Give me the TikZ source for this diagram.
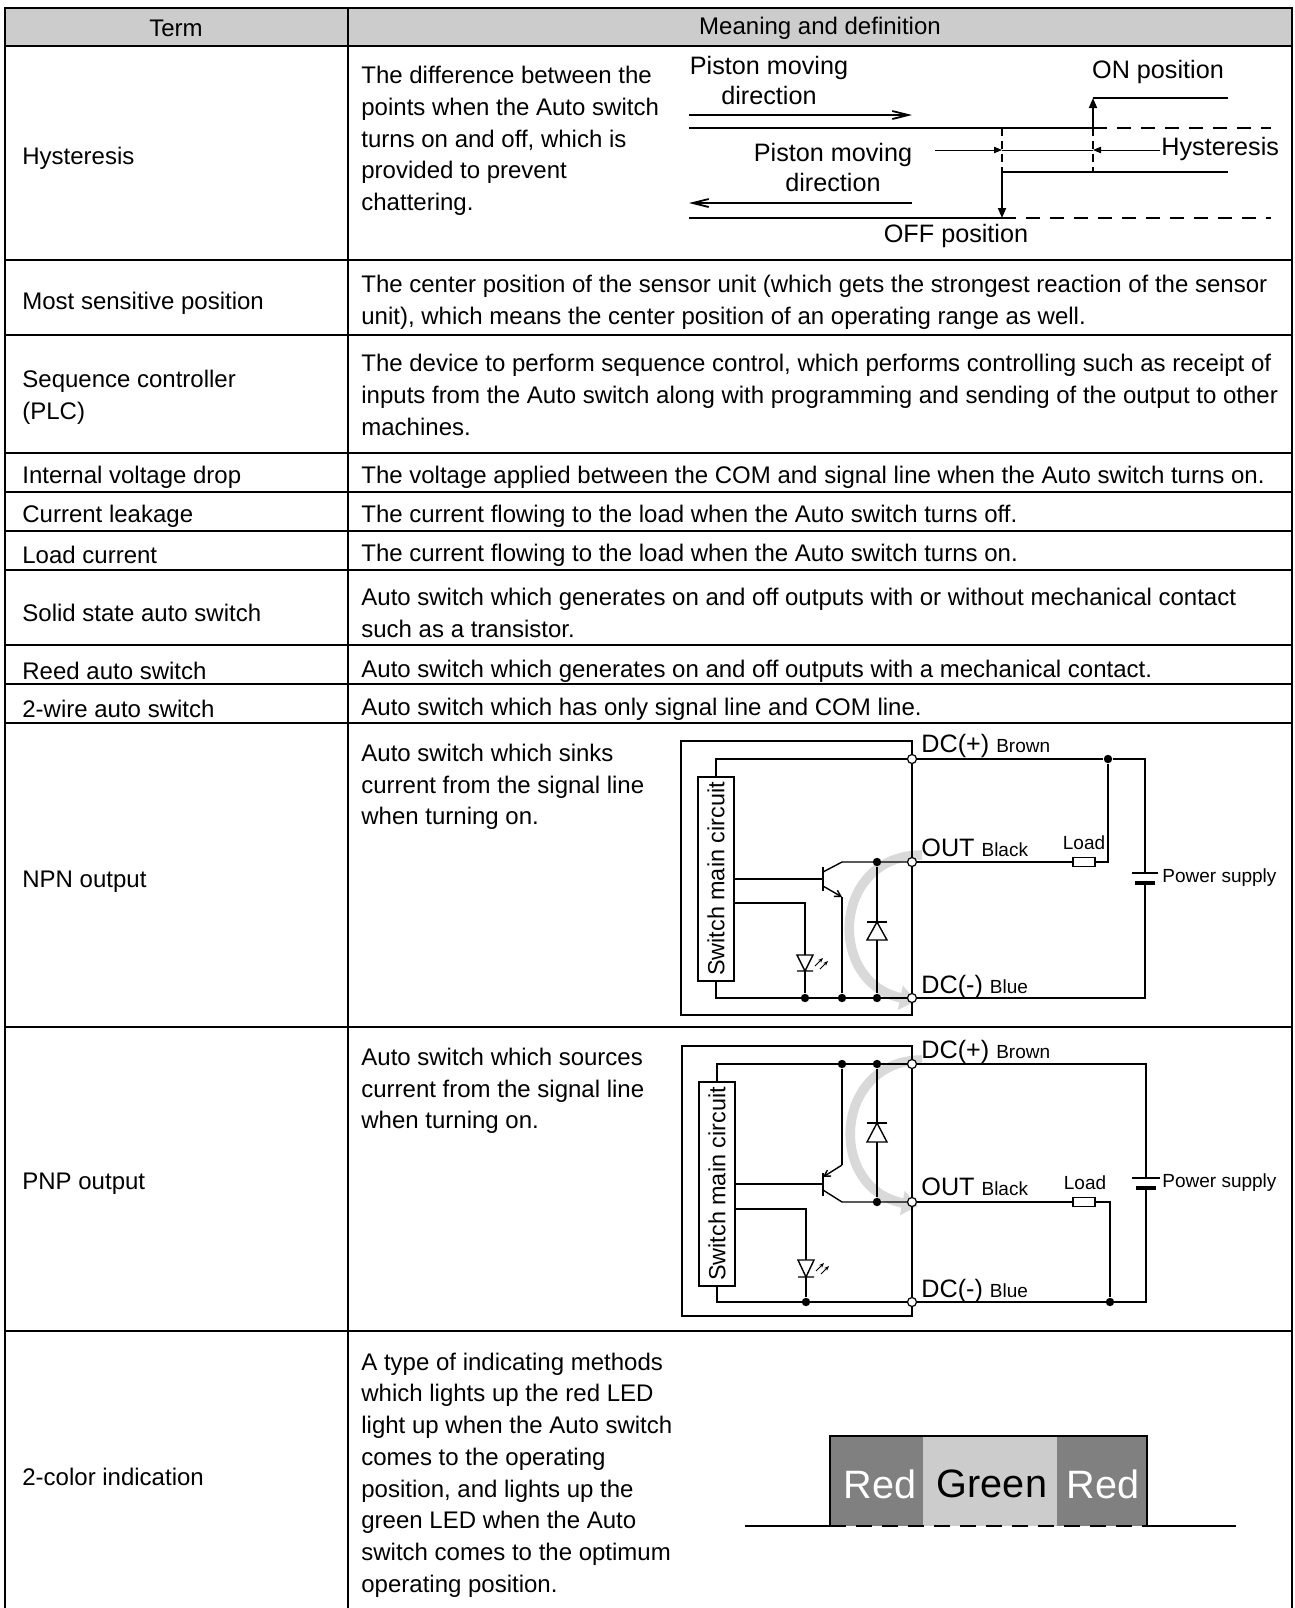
\documentclass[tikz,border=0pt]{standalone}
\usepackage{fontspec}
\setmainfont{Liberation Sans}
\usetikzlibrary{arrows.meta}
\newcommand{\wirefont}{\fontsize{9.5}{9.5}\selectfont}

\begin{document}
\begin{tikzpicture}[x=0.5pt,y=-0.5pt,
  every node/.style={inner sep=0pt},
  txt/.style={anchor=west,align=left,yshift=-2pt,font=\fontsize{12}{15.85}\selectfont},
  rule/.style={line width=1.15pt},
  hline/.style={line width=0.9pt},
  wire/.style={line width=0.7pt},
  term/.style={draw,shape=circle,fill=white,minimum size=4.5pt,line width=0.6pt},
  dot/.style={shape=circle,fill=black,minimum size=4.2pt},
  big/.style={font=\fontsize{12.6}{15}\selectfont},
  small/.style={font=\wirefont},
  boxtxt/.style={draw,wire,rotate=90,minimum width=102pt,minimum height=18pt,font=\fontsize{11.7}{11.7}\selectfont},
  lamp/.style={font=\fontsize{19.8}{19.8}\selectfont},
  emit/.style={-{Straight Barb[length=3pt,width=3.5pt]}},
  flow/.style={draw=black!15,line width=4.8pt,-{Triangle[length=8pt,width=12pt]}}]
\useasboundingbox (0,0) rectangle (1295,1608);
% table grid
\fill[black!20] (5,8) rectangle (1292,46);
\draw[rule] (5,1608) -- (5,8) -- (1292,8) -- (1292,1608) (348,8) -- (348,1608);
\draw[rule] (5,46) -- (1292,46) (5,260) -- (1292,260) (5,335) -- (1292,335)
  (5,453) -- (1292,453) (5,492) -- (1292,492) (5,531) -- (1292,531)
  (5,570) -- (1292,570) (5,645) -- (1292,645) (5,684) -- (1292,684)
  (5,723) -- (1292,723) (5,1027) -- (1292,1027) (5,1331) -- (1292,1331);
\node[txt,anchor=center,yshift=2pt] (hTerm) at (176,28) {Term};
\node[txt,anchor=center,yshift=2pt] (hMean) at (820,28) {Meaning and definition};
% terms
\node[txt] (tHys) at (22,154) {Hysteresis};
\node[txt] (tSens) at (22,299) {Most sensitive position};
\node[txt] (tPlc) at (22,393) {Sequence controller\\(PLC)};
\node[txt] (tDrop) at (22,473) {Internal voltage drop};
\node[txt] (tLeak) at (22,512) {Current leakage};
\node[txt] (tLoad) at (22,551) {Load current};
\node[txt] (tSolid) at (22,609) {Solid state auto switch};
\node[txt] (tReed) at (22,667) {Reed auto switch};
\node[txt] (tTwo) at (22,705) {2-wire auto switch};
\node[txt] (tNpn) at (22,878) {NPN output};
\node[txt] (tPnp) at (22,1180) {PNP output};
\node[txt] (tLed) at (22,1473) {2-color indication};
% definitions
\node[txt] (dHys) at (361,137) {The difference between the\\points when the Auto switch\\turns on and off, which is\\provided to prevent\\chattering.};
\node[txt] (dSens) at (361,298) {The center position of the sensor unit (which gets the strongest reaction of the sensor\\unit), which means the center position of an operating range as well.};
\node[txt] (dPlc) at (361,391) {The device to perform sequence control, which performs controlling such as receipt of\\inputs from the Auto switch along with programming and sending of the output to other\\machines.};
\node[txt] (dDrop) at (361,473) {The voltage applied between the COM and signal line when the Auto switch turns on.};
\node[txt] (dLeak) at (361,512) {The current flowing to the load when the Auto switch turns off.};
\node[txt] (dLoad) at (361,551) {The current flowing to the load when the Auto switch turns on.};
\node[txt] (dSolid) at (361,609) {Auto switch which generates on and off outputs with or without mechanical contact\\such as a transistor.};
\node[txt] (dReed) at (361,667) {Auto switch which generates on and off outputs with a mechanical contact.};
\node[txt] (dTwo) at (361,705) {Auto switch which has only signal line and COM line.};
\node[txt] (dNpn) at (361,783) {Auto switch which sinks\\current from the signal line\\when turning on.};
\node[txt] (dPnp) at (361,1087) {Auto switch which sources\\current from the signal line\\when turning on.};
\node[txt] (dLed) at (361,1471) {A type of indicating methods\\which lights up the red LED\\light up when the Auto switch\\comes to the operating\\position, and lights up the\\green LED when the Auto\\switch comes to the optimum\\operating position.};

% hysteresis chart
\path (689,128) coordinate (h0) (1093,128) coordinate (h1) (1271,128) coordinate (h2)
  (1093,98) coordinate (h3) (1228,98) coordinate (h4)
  (689,218) coordinate (h5) (1002,218) coordinate (h6) (1271,218) coordinate (h7)
  (1002,172) coordinate (h8) (1228,172) coordinate (h9);
\draw[hline] (h0) -- (h1) (h3) -- (h4) (h5) -- (h6) (h8) -- (h9);
\draw[hline,dash pattern=on 7pt off 5pt] (h1) -- (h2) (h6) -- (h7);
\draw[hline,dash pattern=on 4pt off 2.5pt] (1002,128) -- (h8) (h1) -- (1093,172);
\draw[hline,-{Triangle[length=5pt,width=4pt]}] (h1) -- (h3);
\draw[hline,-{Triangle[length=5pt,width=4pt]}] (h8) -- (h6);
\draw[hline,-{Straight Barb[length=8pt,width=4pt]}] (689,115) -- (912,115);
\draw[hline,-{Straight Barb[length=8pt,width=4pt]}] (912,203) -- (689,203);
\draw[thin,-{Triangle[length=4pt,width=3.2pt]}] (935,150) -- (1002,150);
\draw[thin] (1002,150) -- (1093,150);
\draw[thin,-{Triangle[length=4pt,width=3.2pt]}] (1160,150) -- (1093,150);
\node[big,align=center] (hPis1) at (769,80) {Piston moving\\direction};
\node[big,align=center] (hPis2) at (833,167) {Piston moving\\direction};
\node[big] (hOn) at (1158,72) {ON position};
\node[big,anchor=west] (hHys) at (1161,149) {Hysteresis};
\node[big] (hOff) at (956,236) {OFF position};

% NPN output circuit
\draw[flow] (922,855) .. controls (832,855) and (826,982) .. (916,1001);
\draw[wire] (681,741) rectangle (912,1015);
\node[boxtxt] (nBox) at (716,879) {Switch main circuit};
\path (912,759) node[term] (nP) {} (912,862) node[term] (nO) {} (912,998) node[term] (nM) {}
  (1108,759) node[dot] (nJ) {} (877,862) node[dot] (nd0) {}
  (805,998) node[dot] (nd1) {} (842,998) node[dot] (nd2) {} (877,998) node[dot] (nd3) {};
\node[draw,wire,minimum width=11pt,minimum height=4.5pt] (nL) at (1084,862) {};
\draw[wire] (nBox.east) |- (nP) -- (nJ) -| (1145,873);
\draw[wire] (1132,873) -- (1158,873);
\draw[line width=1.6pt] (1135,883) -- (1155,883);
\draw[wire] (1145,883) |- (nM);
\draw[wire] (nJ) |- (nL) (nO) -- (nL);
\draw[wire] (nBox.west) |- (nM);
\draw[wire] (823,867) -- (823,891) (nBox.south) -- (823,879);
\draw[wire] (823,872) -- (842,862) -- (nO);
\draw[wire,emit] (823,886) -- (842,897);
\draw[wire] (842,897) -- (nd2);
\draw[wire] (nd0) -- (nd3);
\draw[wire,fill=white] (867,940) -- (887,940) -- (877,922) -- cycle;
\draw[wire] (867,922) -- (887,922);
\draw[wire] (nBox.south |- 0,903) -| (805,955);
\draw[wire] (797,955) -- (813,955) -- (805,971) -- cycle (797,971) -- (813,971);
\draw[wire] (805,971) -- (nd1);
\draw[thin,-{Stealth[length=2.5pt,width=2pt]}] (815,966) -- (823,958);
\draw[thin,-{Stealth[length=2.5pt,width=2pt]}] (820,969) -- (828,961);
\node[big,anchor=base west] (nPl) at (921,752) {DC(+) {\wirefont Brown}};
\node[big,anchor=base west] (nOl) at (921,856) {OUT {\wirefont Black}};
\node[big,anchor=base west] (nMl) at (921,993) {DC(-) {\wirefont Blue}};
\node[small] (nLl) at (1084,843) {Load};
\node[small,anchor=west] (nSl) at (1162,878) {Power supply};

% PNP output circuit
\draw[flow] (922,1060) .. controls (834,1060) and (826,1188) .. (918,1206);
\draw[wire] (682,1046) rectangle (912,1316);
\node[boxtxt] (pBox) at (717,1184) {Switch main circuit};
\path (912,1064) node[term] (pP) {} (912,1202) node[term] (pO) {} (912,1302) node[term] (pM) {}
  (842,1064) node[dot] (pd0) {} (877,1064) node[dot] (pd1) {} (877,1202) node[dot] (pd2) {}
  (806,1302) node[dot] (pd3) {} (1110,1302) node[dot] (pJ) {};
\node[draw,wire,minimum width=11pt,minimum height=4.5pt] (pL) at (1084,1202) {};
\draw[wire] (pBox.east) |- (pP) -| (1146,1178);
\draw[wire] (1132,1178) -- (1160,1178);
\draw[line width=1.6pt] (1136,1188) -- (1156,1188);
\draw[wire] (1146,1188) |- (pM);
\draw[wire] (pO) -- (pL) -| (pJ);
\draw[wire] (pBox.west) |- (pM);
\draw[wire] (pd1) -- (pd2);
\draw[wire,fill=white] (867,1142) -- (887,1142) -- (877,1123) -- cycle;
\draw[wire] (867,1123) -- (887,1123);
\draw[wire] (823,1173) -- (823,1196) (pBox.south) -- (823,1184);
\draw[wire] (pd0) -- (842,1165);
\draw[wire,emit] (842,1165) -- (823,1177);
\draw[wire] (823,1190) -- (842,1202) -- (pO);
\draw[wire] (pBox.south |- 0,1209) -| (806,1260);
\draw[wire] (798,1260) -- (814,1260) -- (806,1277) -- cycle (798,1277) -- (814,1277);
\draw[wire] (806,1277) -- (pd3);
\draw[thin,-{Stealth[length=2.5pt,width=2pt]}] (816,1271) -- (824,1263);
\draw[thin,-{Stealth[length=2.5pt,width=2pt]}] (821,1274) -- (829,1266);
\node[big,anchor=base west] (pPl) at (921,1058) {DC(+) {\wirefont Brown}};
\node[big,anchor=base west] (pOl) at (921,1195) {OUT {\wirefont Black}};
\node[big,anchor=base west] (pMl) at (921,1297) {DC(-) {\wirefont Blue}};
\node[small] (pLl) at (1085,1183) {Load};
\node[small,anchor=west] (pSl) at (1162,1183) {Power supply};

% 2-color indication
\fill[black!50] (830,1436) rectangle (923,1526);
\fill[black!20] (923,1436) rectangle (1057,1526);
\fill[black!50] (1057,1436) rectangle (1147,1526);
\draw[hline] (745,1526) -- (830,1526) -- (830,1436) -- (1147,1436) -- (1147,1526) -- (1236,1526);
\draw[hline,dash pattern=on 8pt off 5pt] (830,1526) -- (1147,1526);
\node[lamp,text=white] (cRed1) at (880,1484) {Red};
\node[lamp] (cGreen) at (992,1484) {Green};
\node[lamp,text=white] (cRed2) at (1103,1484) {Red};
\end{tikzpicture}
\end{document}
